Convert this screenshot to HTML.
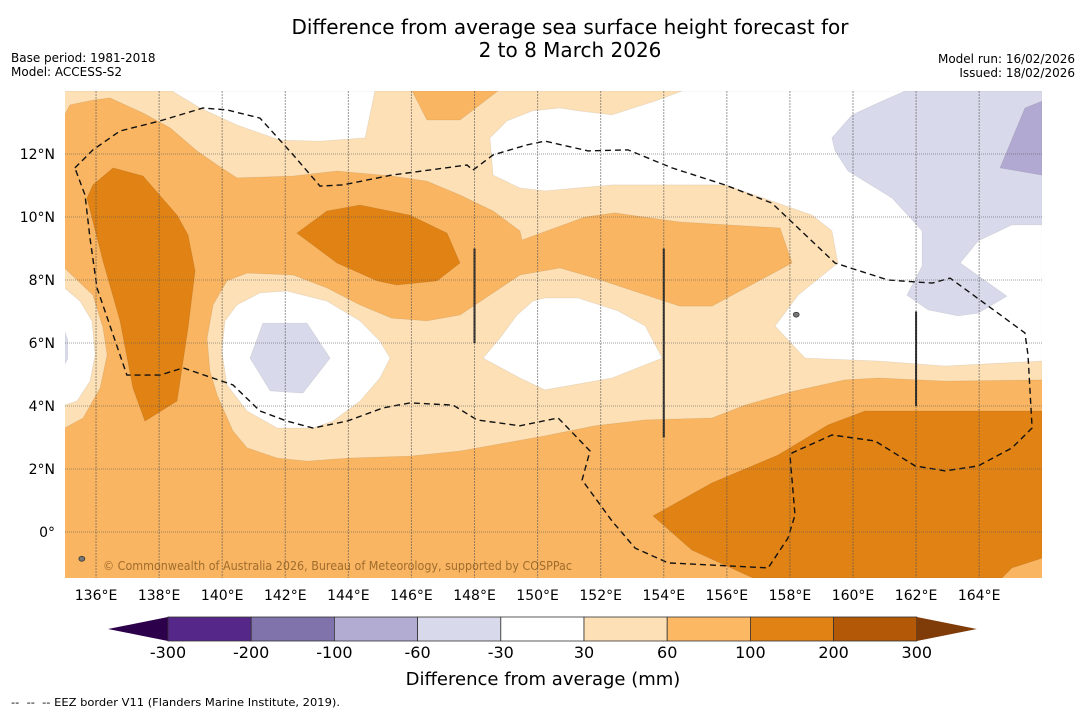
<!DOCTYPE html>
<html><head><meta charset="utf-8"><style>
body{margin:0;background:#fff;width:1085px;height:713px;overflow:hidden;font-family:"DejaVu Sans","Liberation Sans",sans-serif;}
svg{position:absolute;left:0;top:0}
</style></head><body>
<svg id="chart" width="1085" height="713" viewBox="0 0 1085 713" font-family="DejaVu Sans, Liberation Sans, sans-serif">
<text x="570" y="34" font-size="20" text-anchor="middle">Difference from average sea surface height forecast for</text>
<text x="570" y="57" font-size="20" text-anchor="middle">2 to 8 March 2026</text>
<text x="11" y="62" font-size="12">Base period: 1981-2018</text>
<text x="11" y="76" font-size="12">Model: ACCESS-S2</text>
<text x="1075" y="63" font-size="12" text-anchor="end">Model run: 16/02/2026</text>
<text x="1075" y="77" font-size="12" text-anchor="end">Issued: 18/02/2026</text>
<defs><clipPath id="mapclip"><rect x="65" y="91" width="977" height="487"/></clipPath></defs>
<g id="map" clip-path="url(#mapclip)"></g>
<g id="grid"></g>
<g id="axes"></g>
<text x="103" y="570" font-size="12" textLength="469" lengthAdjust="spacingAndGlyphs" fill="#8a5a20" fill-opacity="0.8">© Commonwealth of Australia 2026, Bureau of Meteorology, supported by COSPPac</text>
<g id="cbar"></g>
<text x="543" y="685" font-size="18" text-anchor="middle">Difference from average (mm)</text>
<text x="11" y="706" font-size="11" textLength="329" lengthAdjust="spacingAndGlyphs" xml:space="preserve">--  --  -- EEZ border V11 (Flanders Marine Institute, 2019).</text>
</svg>
<script>
const lonTicks=[136,138,140,142,144,146,148,150,152,154,156,158,160,162,164];
const latTicks=[0,2,4,6,8,10,12];
const cbarLevels=["-300","-200","-100","-60","-30","30","60","100","200","300"];
const cbarColors=["#542788","#8073ac","#b2abd2","#d8daeb","#ffffff","#fee0b6","#fdb863","#e08214","#b35806"];
const colMid="#f9b561",colLight="#fde0b5",colWhite="#ffffff",colDark="#e08214",colPurp="#d8d9ea",colPurp2="#b1a9d1";
const light1=[[135.0,14],[166,14],[166,4.83],[162.92,4.79],[160.79,4.89],[159.74,4.83],[158.16,4.48],[156.58,4.03],[155.53,3.62],[153.41,3.56],[151.82,3.37],[150.23,3.05],[148.59,2.76],[147.54,2.57],[145.95,2.41],[144.05,2.35],[142.69,2.25],[141.74,2.35],[140.79,2.67],[140.34,3.21],[139.84,4.35],[139.61,5.11],[139.52,6.16],[139.71,7.21],[140.15,7.97],[140.79,8.22],[142.25,8.16],[143.32,7.75],[144.37,7.21],[145.37,6.79],[146.49,6.70],[147.54,6.89],[149.44,8.16],[150.71,8.38],[151.82,8.06],[153.72,7.43],[154.51,7.17],[155.53,7.17],[158.07,8.54],[157.69,9.65],[154.51,9.84],[152.45,10.13],[151.50,10.00],[149.51,9.27],[149.44,9.56],[148.59,10.19],[147.54,10.70],[146.49,11.14],[145.37,11.30],[143.64,11.46],[142.25,11.30],[140.47,11.24],[139.84,11.65],[139.20,12.10],[138.35,12.83],[137.49,13.30],[136.44,13.78],[135.90,13.71],[135.17,13.56],[135.0,13.24]];
const light2=[[135,8.38],[135.90,7.52],[136.22,6.48],[136.35,5.62],[136.13,4.57],[135.59,3.62],[135,3.30]];
const midTop=[[146.02,14],[146.49,13.08],[147.54,13.08],[148.74,14]];
const whiteTL=[[138.41,14],[139.30,13.46],[140.47,12.92],[141.83,12.44],[143.10,12.41],[144.53,12.51],[144.84,14]];
const whiteR=[[148.49,12.51],[149.03,13.05],[149.85,13.37],[150.71,13.46],[151.28,13.37],[152.36,13.24],[153.72,13.68],[154.58,14],[166,14],[166,5.43],[162.92,5.27],[160.79,5.43],[158.48,5.52],[157.53,6.54],[158.26,7.52],[159.52,8.54],[159.33,9.56],[158.70,10.06],[157.62,10.44],[155.94,11.02],[152.36,11.02],[150.23,10.83],[149.44,10.92],[148.59,11.33]];
const whiteMid=[[150.23,7.43],[151.28,7.43],[152.55,7.02],[153.41,6.54],[153.95,5.52],[152.36,4.89],[150.23,4.51],[149.44,4.89],[148.27,5.52],[148.81,6.16],[149.35,6.89],[149.85,7.33]];
const whiteL=[[135,7.75],[135.49,7.33],[135.87,6.70],[135.97,5.62],[135.81,4.79],[135.40,4.16],[135,4.03]];
const whiteEye=[[140.47,7.21],[141.20,7.59],[142.05,7.65],[143.32,7.33],[144.37,6.70],[145.00,6.06],[145.32,5.52],[145.00,4.89],[144.37,4.16],[143.51,3.52],[142.88,3.30],[141.74,3.30],[140.79,3.84],[140.15,4.67],[139.99,5.75],[140.09,6.70]];
const purpHex=[[141.29,6.63],[142.69,6.63],[143.42,5.52],[142.56,4.41],[141.52,4.48],[140.88,5.52]];
const purpL=[[135,6.4],[135.1,6.1],[135.1,5.5],[135,5.3]];
const purpR=[[159.33,12.51],[159.97,13.24],[160.79,13.62],[161.65,14],[166,14],[166,9.75],[165.04,9.75],[163.97,9.24],[163.40,8.54],[164.88,7.49],[163.97,6.95],[163.33,6.86],[162.38,7.05],[161.71,7.52],[162.19,8.44],[162.19,9.56],[161.24,10.60],[159.84,11.46],[159.43,12.10]];
const purpR2=[[166,13.68],[165.45,13.46],[164.66,11.56],[166,11.33]];
const darkL=[[136.54,11.56],[137.49,11.30],[138.57,10.06],[138.92,9.43],[139.14,8.29],[138.92,6.48],[138.57,4.16],[137.55,3.52],[137.17,4.57],[136.76,6.70],[136.22,8.60],[135.71,10.60],[135.90,11.02]];
const darkM=[[142.37,9.49],[143.32,10.19],[144.37,10.38],[145.95,10.06],[147.13,9.49],[147.54,8.54],[146.81,7.97],[145.54,7.84],[144.91,7.97],[143.64,8.54]];
const darkB=[[153.66,0.51],[155.53,1.56],[157.62,2.44],[159.21,3.40],[160.38,3.84],[166,3.84],[166,-0.83],[165.04,-1.14],[164.72,-1.46],[156.83,-1.46],[154.89,-0.57]];
const eez=[[135.33,11.56],[135.90,12.13],[136.76,12.73],[138.03,13.05],[139.39,13.46],[140.15,13.40],[141.20,13.14],[142.25,11.97],[143.10,10.98],[143.83,11.02],[145.37,11.33],[147.76,11.65],[147.95,11.49],[148.59,11.97],[149.66,12.29],[150.23,12.41],[151.60,12.10],[152.87,12.13],[154.26,11.56],[155.94,11.02],[157.43,10.44],[159.43,8.54],[161.11,8.00],[162.51,7.90],[163.08,8.06],[165.45,6.32],[165.55,5.62],[165.68,3.30],[165.04,2.67],[163.97,2.10],[162.92,1.94],[161.97,2.10],[160.70,2.89],[159.33,3.08],[158.07,2.51],[158.01,2.35],[158.16,0.54],[157.94,-0.19],[157.31,-1.14],[154.14,-0.98],[153.09,-0.51],[152.36,0.35],[151.41,1.65],[151.66,2.57],[150.96,3.30],[150.65,3.62],[149.44,3.37],[148.08,3.56],[147.32,4.03],[145.95,4.10],[145.10,3.94],[143.96,3.52],[142.88,3.30],[142.05,3.52],[141.20,3.84],[140.34,4.67],[138.76,5.21],[138.03,4.98],[136.98,4.98],[136.03,7.75],[135.81,9.33],[135.65,10.70]];
const markerLines=[[148,9,6],[154,9,3],[162,7,4]];

const NS="http://www.w3.org/2000/svg";
function X(lon){return 64.5+(lon-135)*31.54;}
function Y(lat){return 91+(14-lat)*31.5;}
function mk(tag,attrs,parent){const e=document.createElementNS(NS,tag);for(const k in attrs)e.setAttribute(k,attrs[k]);parent.appendChild(e);return e;}
function pts(a){return a.map(p=>X(p[0]).toFixed(1)+","+Y(p[1]).toFixed(1)).join(" ");}
const map=document.getElementById("map");
let base=mk("rect",{x:X(135),y:Y(14),width:X(166)-X(135),height:Y(-1.5)-Y(14),fill:colMid},map);


const layers=[["contour-light-band",light1,colLight],["contour-light-left",light2,colLight],["contour-mid-top",midTop,colMid],["contour-white-top-left",whiteTL,colWhite],["contour-white-right",whiteR,colWhite],["contour-white-middle",whiteMid,colWhite],["contour-white-left",whiteL,colWhite],["contour-white-eye",whiteEye,colWhite],["contour-purple-hex",purpHex,colPurp],["contour-purple-left",purpL,colPurp],["contour-purple-right",purpR,colPurp],["contour-purple-dark",purpR2,colPurp2],["contour-dark-left",darkL,colDark],["contour-dark-middle",darkM,colDark],["contour-dark-bottom",darkB,colDark]];
layers.forEach(l=>{
  const p=mk("polygon",{points:pts(l[1]),fill:l[2],stroke:"#000","stroke-opacity":"0.08","stroke-width":"0.8"},map);
  
  
});
let ez=mk("polygon",{points:pts(eez),fill:"none",stroke:"#111","stroke-width":"1.4","stroke-dasharray":"6,4"},map);


markerLines.forEach(m=>{
  const l=mk("line",{x1:X(m[0]),x2:X(m[0]),y1:Y(m[1]),y2:Y(m[2]),stroke:"#222","stroke-width":"2"},map);
  
  
});
const islands=[[135.55,-0.85],[158.2,6.9]];
islands.forEach(i=>{
  const c=mk("ellipse",{cx:X(i[0]),cy:Y(i[1]),rx:3,ry:2.5,fill:"#777",stroke:"#222","stroke-width":"0.6"},map);
  
  
});
const grid=document.getElementById("grid"),axes=document.getElementById("axes");
lonTicks.forEach(t=>{
  const g=mk("line",{x1:X(t),x2:X(t),y1:91,y2:578,stroke:"#555","stroke-opacity":"0.6","stroke-width":"1","stroke-dasharray":"2,1"},grid);
  
  
  const tx=mk("text",{x:X(t),y:600,"font-size":"14","text-anchor":"middle"},axes);
  tx.textContent=t+"°E";
  
  
});
latTicks.forEach(t=>{
  const g=mk("line",{x1:65,x2:1042,y1:Y(t),y2:Y(t),stroke:"#555","stroke-opacity":"0.55","stroke-width":"1","stroke-dasharray":"1,1"},grid);
  
  
  const tx=mk("text",{x:55,y:Y(t)+5,"font-size":"14","text-anchor":"end"},axes);
  tx.textContent=t===0?"0°":t+"°N";
  
  
});
const cb=document.getElementById("cbar");
const cx0=168,cw=83.2,cy0=617,ch=24;
let lt=mk("polygon",{points:`108,${cy0+ch/2} ${cx0},${cy0} ${cx0},${cy0+ch}`,fill:"#2d004b"},cb);


cbarColors.forEach((c,i)=>{
  const r=mk("rect",{x:cx0+i*cw,y:cy0,width:cw,height:ch,fill:c,stroke:"#333","stroke-width":"0.8"},cb);
  
  
});
const xe=cx0+cbarColors.length*cw;
let rt=mk("polygon",{points:`${xe},${cy0} ${xe+60},${cy0+ch/2} ${xe},${cy0+ch}`,fill:"#7f3b08"},cb);


cbarLevels.forEach((s,i)=>{
  const t=mk("text",{x:cx0+i*cw,y:658,"font-size":"16","text-anchor":"middle"},cb);
  t.textContent=s;
  
  
});
</script>
</body></html>
